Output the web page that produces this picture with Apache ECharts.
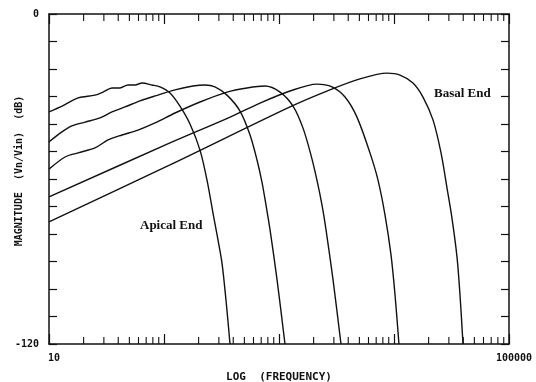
<!DOCTYPE html>
<html>
<head>
<meta charset="utf-8">
<title>Magnitude vs log frequency</title>
<script src="https://cdn.jsdelivr.net/npm/echarts@6/dist/echarts.min.js"></script>
<style>
  html, body { margin: 0; padding: 0; background: #fff; }
  #chart { width: 536px; height: 382px; }
</style>
</head>
<body>
<div id="chart"></div>
<script>
// frequency (Hz) / magnitude (dB), apical -> basal
const freq1 = [10, 13.0, 17.9, 25.1, 29.5, 35.3, 41.4, 48.6, 56.0, 64.4, 78.7, 92.3, 112.7, 137.7, 168.3, 205.6, 236.6, 266.7, 295.1, 319.2, 345.9, 375]
const mag1 = [-35.6, -33.5, -30.5, -29.5, -28.4, -26.9, -26.9, -25.8, -25.8, -25.1, -25.8, -26.5, -28.7, -33.5, -40.0, -49.5, -60.4, -72.4, -82.2, -90.5, -104.0, -120]

const freq2 = [10, 12.5, 15.8, 20.6, 27.8, 35.3, 45.8, 61.8, 83.6, 124.7, 178.6, 227.5, 277.3, 353, 458, 560, 644, 711, 771, 836, 962, 1127]
const mag2 = [-46.5, -43.3, -40.7, -39.3, -37.8, -35.6, -33.8, -31.6, -29.8, -27.6, -26.2, -25.8, -26.5, -29.5, -35.3, -44.0, -53.1, -61.1, -69.5, -78.5, -96.7, -120]

const freq3 = [10, 13.8, 17.9, 25.1, 32.6, 43.1, 59.4, 83.6, 124.7, 205.6, 353, 527, 755, 1021, 1324, 1618, 1897, 2138, 2366, 2564, 2951, 3459]
const mag3 = [-56.4, -52.0, -50.5, -48.7, -45.8, -44.0, -42.2, -39.6, -36.0, -32.0, -28.4, -26.9, -26.2, -28.4, -33.5, -41.5, -51.3, -60.4, -69.5, -78.5, -96.7, -120]

const freq4 = [10, 112.7, 372, 684, 1247, 2138, 2891, 3750, 4764, 6180, 7261, 8356, 9419, 10210, 11041]
const mag4 = [-66.5, -46.9, -37.6, -32.4, -28.0, -25.5, -26.5, -30.2, -37.5, -50.5, -60.4, -73.1, -87.6, -102.2, -120]

const freq5 = [10, 112.7, 1247, 2773, 5058, 8690, 11272, 14622, 17865, 21827, 25645, 28907, 31915, 35318, 37497, 39811]
const mag5 = [-75.6, -54.9, -33.8, -27.6, -23.6, -21.5, -22.2, -25.1, -30.2, -38.5, -50.5, -63.3, -74.2, -88.4, -102.2, -120]

const decades = [10, 100, 1000, 10000]
const minorSteps = [2, 3, 4, 5, 6, 7, 8, 9]
const yTicks = { min: -120, max: 0, step: 10 }

const pairs = (xs, ys) => xs.map((x, i) => [x, ys[i]])
const minorTicks = []
decades.forEach(d => minorSteps.forEach(k => minorTicks.push([d * k, yTicks.min])))

const chart = echarts.init(document.getElementById('chart'))

const monoFont = { fontFamily: 'DejaVu Sans Mono', fontWeight: 'bold', color: '#111' }
const tickStyle = { color: '#111', width: 1.2 }

const lineSeries = [[freq1, mag1], [freq2, mag2], [freq3, mag3], [freq4, mag4], [freq5, mag5]].map((c, i) => ({
  name: 'curve' + (i + 1),
  type: 'line',
  data: pairs(c[0], c[1]),
  showSymbol: false,
  smooth: 0.3,
  lineStyle: { color: '#111', width: 1.4 },
  z: 3
}))

const option = {
  animation: false,
  grid: { left: 49, right: 27, top: 14, bottom: 38, outerBoundsMode: 'none', containLabel: false },
  xAxis: [
    {
      type: 'log',
      logBase: 10,
      min: 10,
      max: 100000,
      position: 'bottom',
      name: 'LOG  (FREQUENCY)',
      nameLocation: 'middle',
      nameGap: 28,
      nameMoveOverlap: false,
      nameTextStyle: Object.assign({ fontSize: 11 }, monoFont),
      axisLine: { onZero: false, lineStyle: { color: '#111', width: 1.5 } },
      axisTick: { inside: true, length: 10, lineStyle: tickStyle },
      axisLabel: {
        margin: 9,
        fontSize: 10,
        padding: [0, 0, 0, 10],
        ...monoFont,
        formatter: v => (v === 10 || v === 100000) ? String(v) : ''
      },
      splitLine: { show: false }
    },
    {
      type: 'log',
      logBase: 10,
      min: 10,
      max: 100000,
      position: 'top',
      axisLine: { onZero: false, lineStyle: { color: '#111', width: 1.5 } },
      axisTick: { inside: true, length: 10, lineStyle: tickStyle },
      axisLabel: { show: false },
      splitLine: { show: false }
    }
  ],
  yAxis: [
    {
      type: 'value',
      min: yTicks.min,
      max: yTicks.max,
      interval: yTicks.step,
      name: 'MAGNITUDE  (Vn/Vin)  (dB)',
      nameLocation: 'middle',
      nameGap: 25,
      nameRotate: 90,
      nameMoveOverlap: false,
      nameTextStyle: Object.assign({ fontSize: 10, padding: [0, 0, 0, 16] }, monoFont),
      axisLine: { show: true, onZero: false, lineStyle: { color: '#111', width: 1.5 } },
      axisTick: { show: true, inside: true, length: 8, lineStyle: tickStyle },
      axisLabel: {
        margin: 10,
        fontSize: 10,
        ...monoFont,
        formatter: v => (v === 0 || v === -120) ? String(v) : ''
      },
      splitLine: { show: false }
    },
    {
      type: 'value',
      min: yTicks.min,
      max: yTicks.max,
      interval: yTicks.step,
      position: 'right',
      axisLine: { show: true, onZero: false, lineStyle: { color: '#111', width: 1.5 } },
      axisTick: { show: true, inside: true, length: 8, lineStyle: tickStyle },
      axisLabel: { show: false },
      splitLine: { show: false }
    }
  ],
  graphic: [
    {
      type: 'text',
      left: 140,
      top: 219,
      style: { text: 'Apical End', font: 'bold 13px "Liberation Serif"', fill: '#111' }
    },
    {
      type: 'text',
      left: 434,
      top: 87,
      style: { text: 'Basal End', font: 'bold 13px "Liberation Serif"', fill: '#111' }
    }
  ],
  series: [
    {
      name: 'minor ticks',
      type: 'custom',
      xAxisIndex: 0,
      yAxisIndex: 0,
      data: minorTicks,
      silent: true,
      renderItem: (params, api) => {
        const bottom = api.coord([api.value(0), yTicks.min])
        const top = api.coord([api.value(0), yTicks.max])
        const style = { stroke: '#111', lineWidth: 1.1 }
        return {
          type: 'group',
          children: [
            { type: 'line', shape: { x1: bottom[0], y1: bottom[1], x2: bottom[0], y2: bottom[1] - 7 }, style },
            { type: 'line', shape: { x1: top[0], y1: top[1], x2: top[0], y2: top[1] + 7 }, style }
          ]
        }
      }
    }
  ].concat(lineSeries)
}

chart.setOption(option)
</script>
</body>
</html>
